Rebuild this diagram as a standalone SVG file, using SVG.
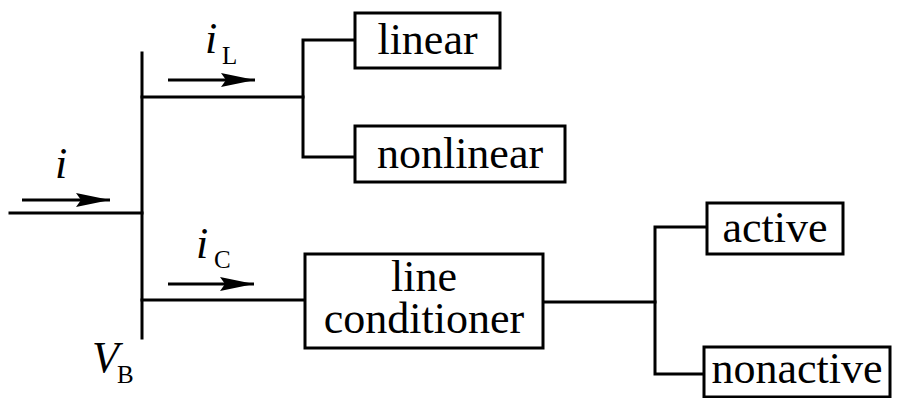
<svg xmlns="http://www.w3.org/2000/svg" width="898" height="398" viewBox="0 0 898 398">
<style>
.w{fill:none;stroke:#000;stroke-width:3;stroke-linecap:square}
.b{fill:#fff;stroke:#000;stroke-width:3}
.a{fill:none;stroke:#000;stroke-width:3}
</style>
<defs>
<marker id="ah" viewBox="0 0 34 14" refX="34" refY="7" markerWidth="34" markerHeight="14" markerUnits="userSpaceOnUse" orient="auto">
<path d="M0,0 L34,7 L0,14 L5,7 z" fill="#000"/>
</marker>
</defs>
<g id="connectors">
<line class="w" x1="142" y1="53" x2="142" y2="338"/>
<line class="w" x1="10" y1="213" x2="142" y2="213"/>
<polyline class="w" points="142,97 303,97"/>
<polyline class="w" points="355,40 303,40 303,157 355,157"/>
<line class="w" x1="142" y1="300" x2="305" y2="300"/>
<line class="w" x1="543" y1="302" x2="655" y2="302"/>
<polyline class="w" points="707,227 655,227 655,374 704,374"/>
<line class="a" x1="22" y1="200" x2="110" y2="200" marker-end="url(#ah)"/>
<line class="a" x1="168" y1="80" x2="255" y2="80" marker-end="url(#ah)"/>
<line class="a" x1="168" y1="284" x2="254" y2="284" marker-end="url(#ah)"/>
</g>
<g font-family="Liberation Serif, Times New Roman, serif" fill="#000">
<g id="label-i"><text font-size="44" font-style="italic" x="55" y="178">i</text></g>
<g id="label-iL"><text font-size="44" font-style="italic" x="205" y="53">i</text><text font-size="25" x="222" y="64">L</text></g>
<g id="label-iC"><text font-size="44" font-style="italic" x="196" y="258">i</text><text font-size="25" x="214" y="268">C</text></g>
<g id="label-VB"><text font-size="44" font-style="italic" x="92" y="372">V</text><text font-size="25" x="117" y="383">B</text></g>
<g id="linear"><rect class="b" x="355" y="13" width="145" height="55"/><text font-size="44" x="427.5" y="54" text-anchor="middle">linear</text></g>
<g id="nonlinear"><rect class="b" x="355" y="126" width="210" height="56"/><text font-size="44" x="460" y="168" text-anchor="middle">nonlinear</text></g>
<g id="line-conditioner"><rect class="b" x="305" y="254" width="238" height="94"/><text font-size="44" x="424" y="291" text-anchor="middle">line</text><text font-size="44" x="424" y="333" text-anchor="middle">conditioner</text></g>
<g id="active"><rect class="b" x="707" y="203" width="136" height="51"/><text font-size="44" x="775" y="242" text-anchor="middle">active</text></g>
<g id="nonactive"><rect class="b" x="704" y="347" width="186" height="50"/><text font-size="44" x="797" y="383" text-anchor="middle">nonactive</text></g>
</g>
</svg>
